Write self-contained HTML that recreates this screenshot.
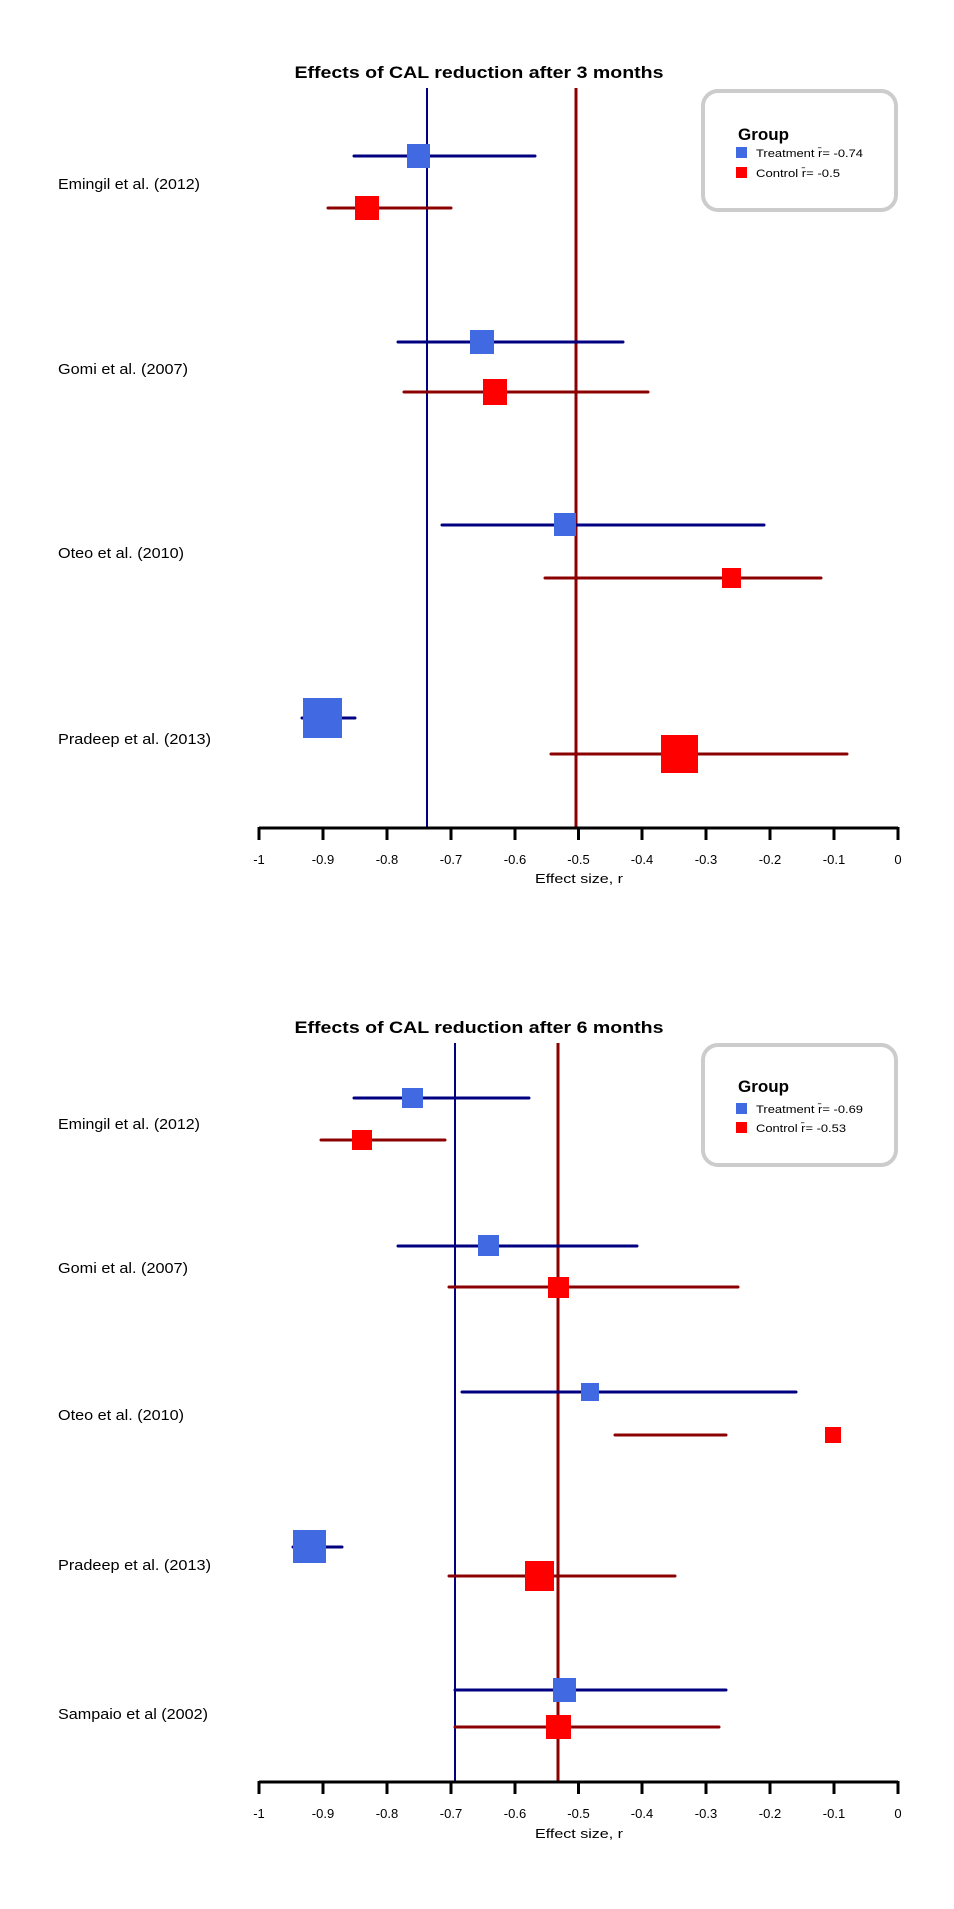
<!DOCTYPE html>
<html><head><meta charset="utf-8"><style>
html,body{margin:0;padding:0;background:#fff;}
svg{display:block;}
text{font-family:"Liberation Sans",sans-serif;}
</style></head><body>
<svg width="954" height="1909" viewBox="0 0 954 1909" xmlns="http://www.w3.org/2000/svg">
<rect width="954" height="1909" fill="#fff"/>

<!-- ===== Chart 1 ===== -->
<text x="479" y="78" font-size="17" font-weight="bold" text-anchor="middle" textLength="369" lengthAdjust="spacingAndGlyphs">Effects of CAL reduction after 3 months</text>
<line x1="427" y1="88" x2="427" y2="828" stroke="#000080" stroke-width="2"/>
<line x1="576" y1="88" x2="576" y2="828" stroke="#8B0000" stroke-width="3"/>

<g font-size="15">
<text x="58" y="189" textLength="142" lengthAdjust="spacingAndGlyphs">Emingil et al. (2012)</text>
<text x="58" y="374" textLength="130" lengthAdjust="spacingAndGlyphs">Gomi et al. (2007)</text>
<text x="58" y="558" textLength="126" lengthAdjust="spacingAndGlyphs">Oteo et al. (2010)</text>
<text x="58" y="744" textLength="153" lengthAdjust="spacingAndGlyphs">Pradeep et al. (2013)</text>
</g>

<g stroke-width="3" stroke-linecap="round">
<line x1="354" y1="156" x2="535" y2="156" stroke="#000080"/>
<line x1="328" y1="208" x2="451" y2="208" stroke="#8B0000"/>
<line x1="398" y1="342" x2="623" y2="342" stroke="#000080"/>
<line x1="404" y1="392" x2="648" y2="392" stroke="#8B0000"/>
<line x1="442" y1="525" x2="764" y2="525" stroke="#000080"/>
<line x1="545" y1="578" x2="821" y2="578" stroke="#8B0000"/>
<line x1="302" y1="718" x2="355" y2="718" stroke="#000080"/>
<line x1="551" y1="754" x2="847" y2="754" stroke="#8B0000"/>
</g>
<g>
<rect x="407" y="144" width="23" height="24" fill="#4169E1"/>
<rect x="355" y="196" width="24" height="24" fill="#FF0000"/>
<rect x="470" y="330" width="24" height="24" fill="#4169E1"/>
<rect x="483" y="379" width="24" height="26" fill="#FF0000"/>
<rect x="554" y="513" width="22" height="23" fill="#4169E1"/>
<rect x="722" y="568" width="19" height="20" fill="#FF0000"/>
<rect x="303" y="698" width="39" height="40" fill="#4169E1"/>
<rect x="661" y="735" width="37" height="38" fill="#FF0000"/>
</g>

<rect x="703" y="91" width="193" height="119" rx="15" fill="#fff" stroke="#cccccc" stroke-width="4"/>
<text x="738" y="140" font-size="17" font-weight="bold">Group</text>
<rect x="736" y="147" width="11" height="11" fill="#4169E1"/>
<rect x="736" y="167" width="11" height="11" fill="#FF0000"/>
<text x="756" y="157" font-size="11" textLength="107" lengthAdjust="spacingAndGlyphs">Treatment r̄= -0.74</text>
<text x="756" y="177" font-size="11" textLength="84" lengthAdjust="spacingAndGlyphs">Control r̄= -0.5</text>

<g stroke="#000" stroke-width="3">
<line x1="259" y1="828" x2="898" y2="828"/>
<line x1="259" y1="827" x2="259" y2="840"/><line x1="323" y1="827" x2="323" y2="840"/><line x1="387" y1="827" x2="387" y2="840"/><line x1="451" y1="827" x2="451" y2="840"/><line x1="515" y1="827" x2="515" y2="840"/><line x1="578.5" y1="827" x2="578.5" y2="840"/><line x1="642" y1="827" x2="642" y2="840"/><line x1="706" y1="827" x2="706" y2="840"/><line x1="770" y1="827" x2="770" y2="840"/><line x1="834" y1="827" x2="834" y2="840"/><line x1="898" y1="827" x2="898" y2="840"/>
</g>
<g font-size="13" text-anchor="middle">
<text x="259" y="864">-1</text><text x="323" y="864">-0.9</text><text x="387" y="864">-0.8</text><text x="451" y="864">-0.7</text><text x="515" y="864">-0.6</text><text x="578.5" y="864">-0.5</text><text x="642" y="864">-0.4</text><text x="706" y="864">-0.3</text><text x="770" y="864">-0.2</text><text x="834" y="864">-0.1</text><text x="898" y="864">0</text>
<text x="579" y="883" textLength="88" lengthAdjust="spacingAndGlyphs">Effect size, r</text>
</g>

<!-- ===== Chart 2 ===== -->
<text x="479" y="1033" font-size="17" font-weight="bold" text-anchor="middle" textLength="369" lengthAdjust="spacingAndGlyphs">Effects of CAL reduction after 6 months</text>
<line x1="455" y1="1043" x2="455" y2="1782" stroke="#000080" stroke-width="2"/>
<line x1="558" y1="1043" x2="558" y2="1782" stroke="#8B0000" stroke-width="3"/>

<g font-size="15">
<text x="58" y="1129" textLength="142" lengthAdjust="spacingAndGlyphs">Emingil et al. (2012)</text>
<text x="58" y="1273" textLength="130" lengthAdjust="spacingAndGlyphs">Gomi et al. (2007)</text>
<text x="58" y="1420" textLength="126" lengthAdjust="spacingAndGlyphs">Oteo et al. (2010)</text>
<text x="58" y="1570" textLength="153" lengthAdjust="spacingAndGlyphs">Pradeep et al. (2013)</text>
<text x="58" y="1719" textLength="150" lengthAdjust="spacingAndGlyphs">Sampaio et al (2002)</text>
</g>

<g stroke-width="3" stroke-linecap="round">
<line x1="354" y1="1098" x2="529" y2="1098" stroke="#000080"/>
<line x1="321" y1="1140" x2="445" y2="1140" stroke="#8B0000"/>
<line x1="398" y1="1246" x2="637" y2="1246" stroke="#000080"/>
<line x1="449" y1="1287" x2="738" y2="1287" stroke="#8B0000"/>
<line x1="462" y1="1392" x2="796" y2="1392" stroke="#000080"/>
<line x1="615" y1="1435" x2="726" y2="1435" stroke="#8B0000"/>
<line x1="293" y1="1547" x2="342" y2="1547" stroke="#000080"/>
<line x1="449" y1="1576" x2="675" y2="1576" stroke="#8B0000"/>
<line x1="455" y1="1690" x2="726" y2="1690" stroke="#000080"/>
<line x1="455" y1="1727" x2="719" y2="1727" stroke="#8B0000"/>
</g>
<g>
<rect x="402" y="1088" width="21" height="20" fill="#4169E1"/>
<rect x="352" y="1130" width="20" height="20" fill="#FF0000"/>
<rect x="478" y="1235" width="21" height="21" fill="#4169E1"/>
<rect x="548" y="1277" width="21" height="21" fill="#FF0000"/>
<rect x="581" y="1383" width="18" height="18" fill="#4169E1"/>
<rect x="825" y="1427" width="16" height="16" fill="#FF0000"/>
<rect x="293" y="1530" width="33" height="33" fill="#4169E1"/>
<rect x="525" y="1561" width="29" height="30" fill="#FF0000"/>
<rect x="553" y="1678" width="23" height="24" fill="#4169E1"/>
<rect x="546" y="1715" width="25" height="24" fill="#FF0000"/>
</g>

<rect x="703" y="1045" width="193" height="120" rx="15" fill="#fff" stroke="#cccccc" stroke-width="4"/>
<text x="738" y="1092" font-size="17" font-weight="bold">Group</text>
<rect x="736" y="1103" width="11" height="11" fill="#4169E1"/>
<rect x="736" y="1122" width="11" height="11" fill="#FF0000"/>
<text x="756" y="1113" font-size="11" textLength="107" lengthAdjust="spacingAndGlyphs">Treatment r̄= -0.69</text>
<text x="756" y="1132" font-size="11" textLength="90" lengthAdjust="spacingAndGlyphs">Control r̄= -0.53</text>

<g stroke="#000" stroke-width="3">
<line x1="259" y1="1782" x2="898" y2="1782"/>
<line x1="259" y1="1781" x2="259" y2="1794"/><line x1="323" y1="1781" x2="323" y2="1794"/><line x1="387" y1="1781" x2="387" y2="1794"/><line x1="451" y1="1781" x2="451" y2="1794"/><line x1="515" y1="1781" x2="515" y2="1794"/><line x1="578.5" y1="1781" x2="578.5" y2="1794"/><line x1="642" y1="1781" x2="642" y2="1794"/><line x1="706" y1="1781" x2="706" y2="1794"/><line x1="770" y1="1781" x2="770" y2="1794"/><line x1="834" y1="1781" x2="834" y2="1794"/><line x1="898" y1="1781" x2="898" y2="1794"/>
</g>
<g font-size="13" text-anchor="middle">
<text x="259" y="1818">-1</text><text x="323" y="1818">-0.9</text><text x="387" y="1818">-0.8</text><text x="451" y="1818">-0.7</text><text x="515" y="1818">-0.6</text><text x="578.5" y="1818">-0.5</text><text x="642" y="1818">-0.4</text><text x="706" y="1818">-0.3</text><text x="770" y="1818">-0.2</text><text x="834" y="1818">-0.1</text><text x="898" y="1818">0</text>
<text x="579" y="1838" textLength="88" lengthAdjust="spacingAndGlyphs">Effect size, r</text>
</g>
</svg>
</body></html>
